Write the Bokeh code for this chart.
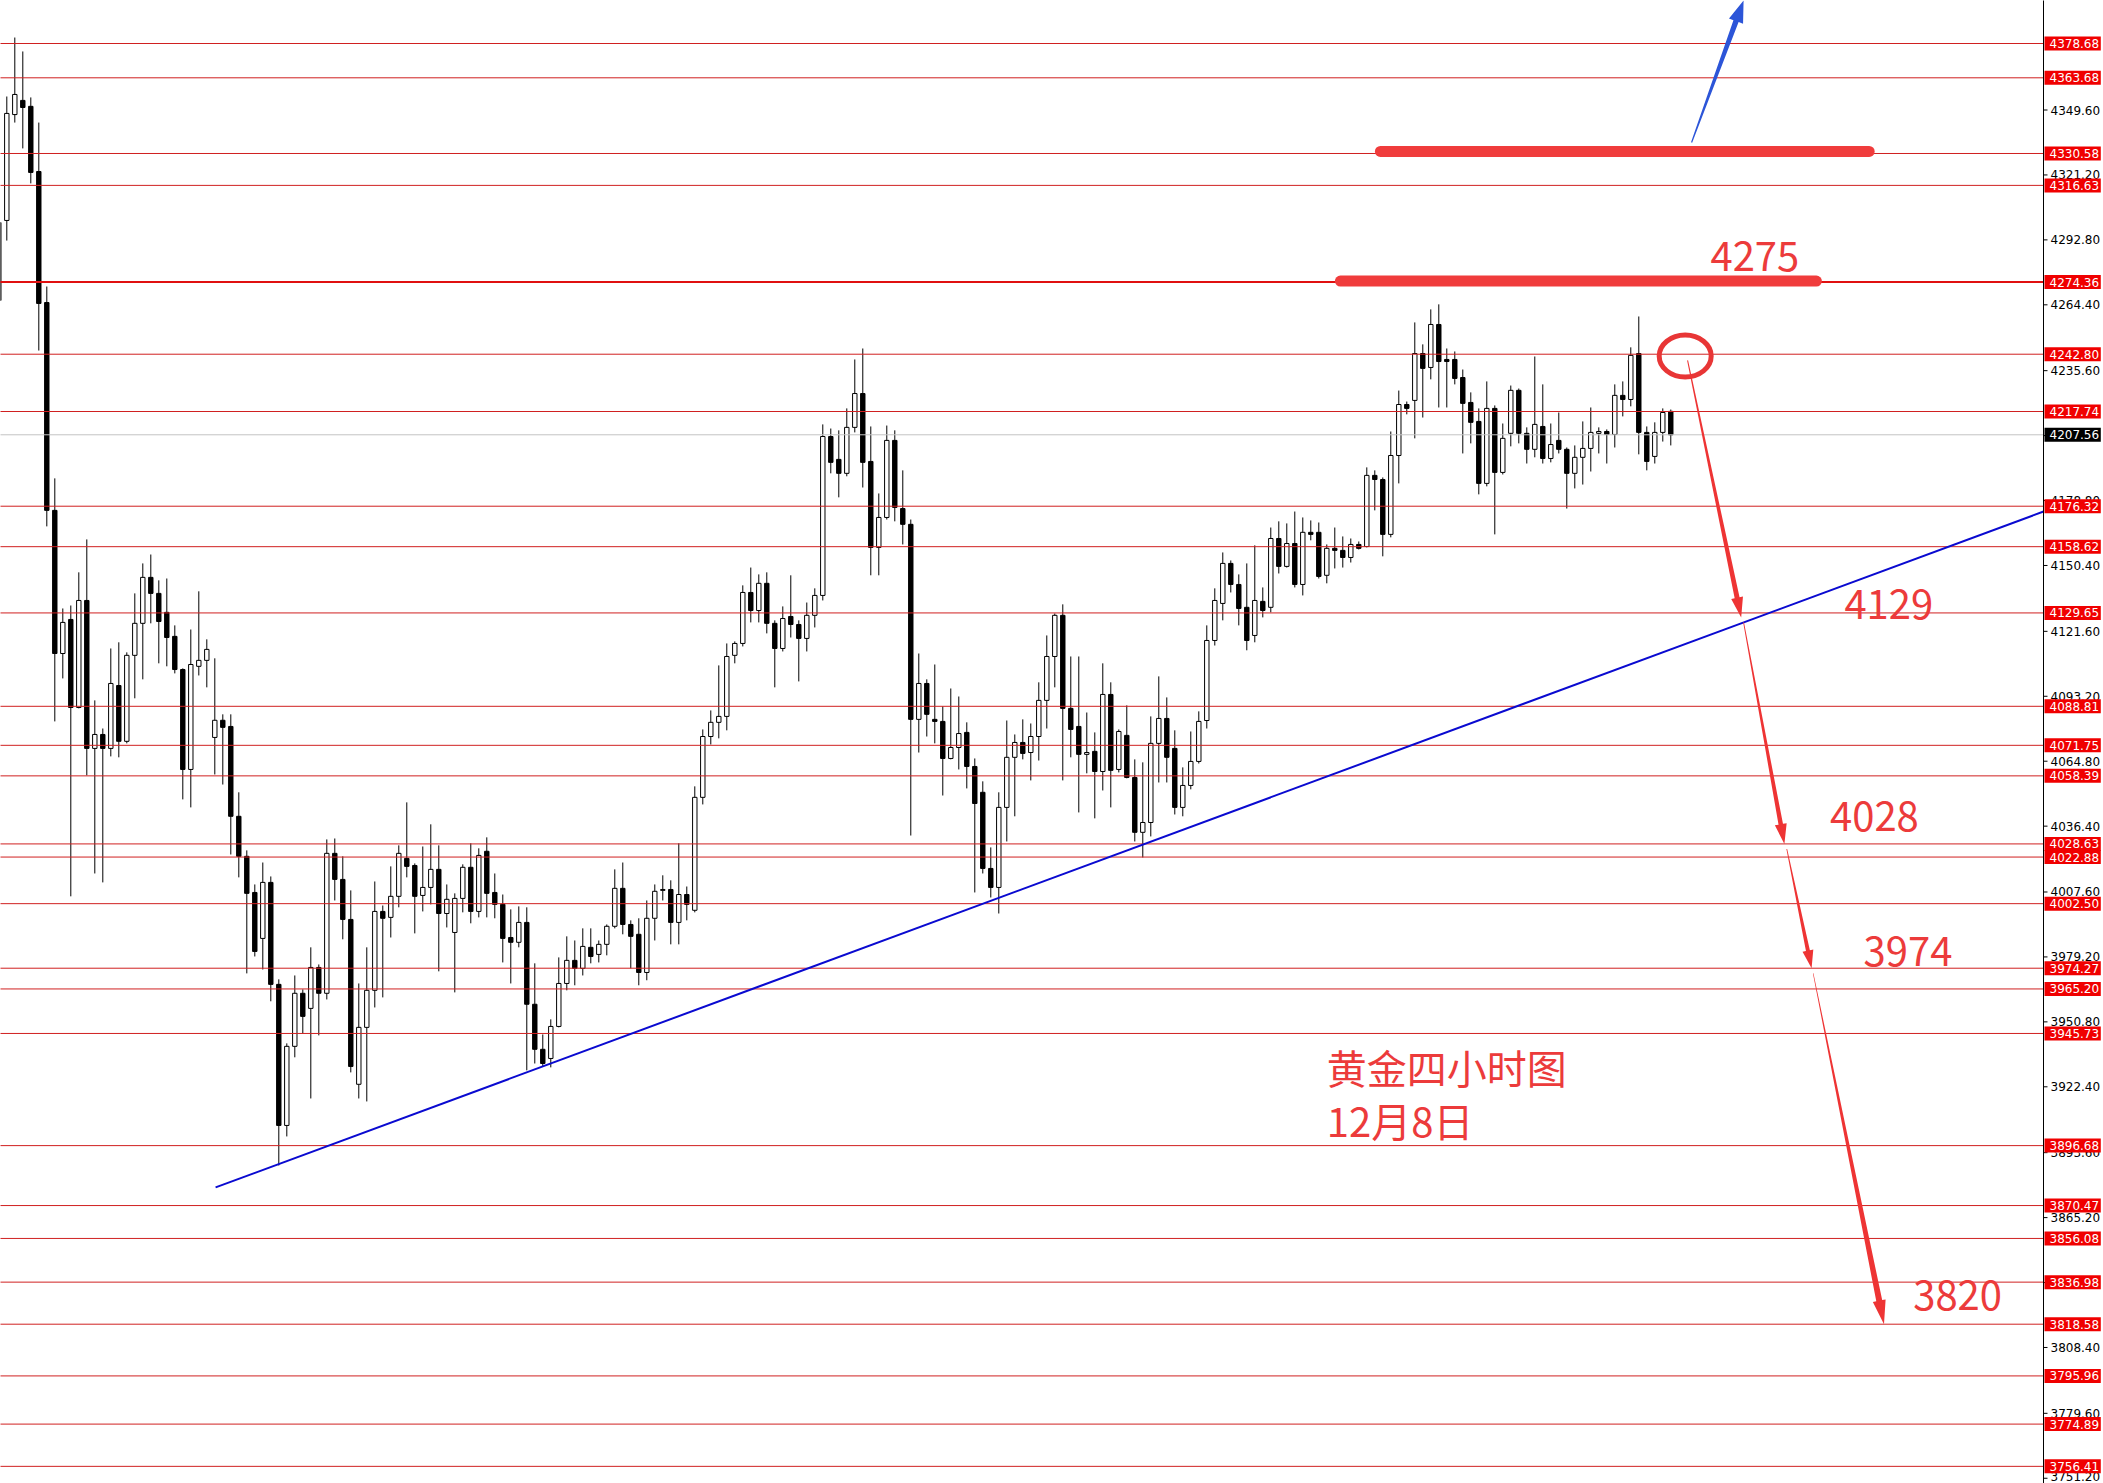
import math
import numpy as np
from bokeh.plotting import figure
from bokeh.models import Range1d
from bokeh.embed import file_html
from bokeh.resources import INLINE
from bokeh.core.properties import value

# ---------------- data (gold, 4-hour candles) ----------------
open_ = [4266.3, 4301.3, 4347.6, 4353.8, 4351.2, 4322.7, 4265.4, 4174.5, 4111.9, 4126.8,
         4088.3, 4135.1, 4070.4, 4076.5, 4070.4, 4097.9, 4073.5, 4111.1, 4125.1, 4145.2,
         4138.2, 4129.9, 4119.4, 4104.9, 4061.2, 4106.3, 4108.9, 4075.2, 4082.7, 4080.0,
         4040.7, 4023.2, 4007.4, 3987.3, 4011.8, 3967.2, 3905.5, 3940.1, 3963.3, 3956.7,
         3974.6, 3963.3, 4024.5, 4013.1, 3995.6, 3923.5, 3948.4, 3964.6, 3999.1, 3996.5,
         4005.7, 4022.3, 4019.2, 4006.1, 4009.6, 4017.5, 3998.2, 3989.9, 4004.8, 4018.4,
         3999.1, 4025.4, 4007.4, 4002.2, 3987.7, 3985.6, 3994.3, 3958.5, 3938.8, 3934.8,
         3948.8, 3967.6, 3977.7, 3974.2, 3983.4, 3980.3, 3984.7, 3992.6, 4009.2, 3993.4,
         3989.1, 3972.4, 3996.1, 4008.3, 4008.7, 3994.3, 4006.5, 3999.6, 4049.0, 4075.6,
         4081.8, 4084.4, 4111.1, 4116.3, 4138.6, 4130.7, 4142.6, 4125.1, 4114.1, 4128.1,
         4124.6, 4118.5, 4128.6, 4137.3, 4206.8, 4196.8, 4190.7, 4210.8, 4225.6, 4195.9,
         4158.3, 4171.4, 4205.1, 4175.3, 4168.4, 4083.1, 4098.8, 4083.1, 4082.2, 4066.0,
         4070.8, 4077.4, 4062.5, 4051.2, 4017.9, 4009.6, 4044.6, 4066.5, 4073.0, 4068.6,
         4075.6, 4091.4, 4110.6, 4128.6, 4087.9, 4080.0, 4067.8, 4069.1, 4060.3, 4094.0,
         4061.2, 4076.1, 4057.7, 4033.7, 4038.0, 4072.6, 4083.5, 4070.4, 4044.6, 4054.2,
         4064.7, 4082.6, 4117.6, 4133.8, 4151.3, 4142.1, 4132.1, 4119.8, 4134.7, 4132.1,
         4162.2, 4150.0, 4160.0, 4142.1, 4164.9, 4164.9, 4146.1, 4157.9, 4157.0, 4153.9,
         4159.6, 4158.7, 4189.8, 4188.0, 4164.0, 4198.5, 4220.8, 4222.6, 4243.1, 4237.0,
         4255.8, 4240.5, 4240.5, 4232.6, 4221.7, 4213.4, 4186.3, 4219.1, 4191.1, 4208.2,
         4227.0, 4208.2, 4201.2, 4211.2, 4197.2, 4205.1, 4201.2, 4190.7, 4197.7, 4201.6,
         4208.2, 4209.0, 4207.7, 4224.8, 4223.0, 4243.1, 4208.6, 4198.1, 4208.6, 4217.8]

high = [4301.3, 4355.5, 4381.3, 4375.2, 4355.1, 4344.1, 4272.4, 4188.5, 4131.6, 4132.9,
        4147.4, 4161.8, 4091.4, 4079.1, 4114.1, 4116.8, 4112.4, 4138.2, 4151.3, 4155.2,
        4143.9, 4144.7, 4124.2, 4105.4, 4122.4, 4139.1, 4118.1, 4109.8, 4085.3, 4085.3,
        4051.2, 4025.8, 4010.9, 4020.5, 4014.4, 3969.4, 3941.4, 3971.1, 3965.0, 3983.4,
        3975.9, 4030.6, 4031.0, 4023.2, 4008.3, 3967.6, 3983.4, 4012.2, 4001.7, 4018.8,
        4028.0, 4046.8, 4020.1, 4027.5, 4037.2, 4028.0, 4010.9, 4007.0, 4019.7, 4028.9,
        4026.7, 4031.5, 4015.7, 4006.5, 4000.0, 4001.3, 4000.9, 3976.4, 3945.3, 3951.9,
        3979.0, 3988.2, 3986.4, 3991.7, 3991.7, 3986.4, 3993.4, 4017.5, 4020.5, 3995.2,
        3996.1, 4003.9, 4010.9, 4014.9, 4012.7, 4028.9, 4010.0, 4053.8, 4078.7, 4087.0,
        4106.7, 4116.3, 4117.2, 4141.7, 4149.5, 4146.5, 4147.4, 4126.4, 4132.5, 4146.1,
        4126.4, 4134.2, 4140.4, 4212.1, 4210.3, 4209.5, 4219.1, 4240.5, 4245.3, 4211.2,
        4181.9, 4211.6, 4209.5, 4192.0, 4170.5, 4111.9, 4100.6, 4107.1, 4088.8, 4096.6,
        4093.1, 4081.8, 4066.0, 4056.0, 4027.1, 4051.2, 4082.6, 4076.5, 4083.1, 4081.3,
        4099.3, 4119.8, 4129.4, 4133.4, 4110.6, 4110.6, 4086.1, 4077.4, 4107.6, 4099.3,
        4078.7, 4089.2, 4065.6, 4064.3, 4084.4, 4101.9, 4092.7, 4078.3, 4062.1, 4077.8,
        4086.6, 4124.2, 4140.4, 4156.1, 4152.6, 4146.5, 4151.3, 4159.2, 4140.8, 4167.0,
        4169.7, 4168.8, 4174.0, 4171.4, 4170.1, 4169.2, 4159.6, 4167.0, 4163.1, 4162.2,
        4160.9, 4193.3, 4192.0, 4188.9, 4209.0, 4226.9, 4222.1, 4256.7, 4247.1, 4262.4,
        4264.6, 4245.3, 4244.0, 4236.1, 4226.1, 4219.1, 4230.9, 4220.4, 4212.5, 4229.1,
        4227.8, 4210.8, 4241.8, 4229.6, 4212.5, 4217.3, 4202.0, 4202.9, 4213.4, 4219.5,
        4210.8, 4209.9, 4229.6, 4230.9, 4245.8, 4259.3, 4211.2, 4213.0, 4219.1, 4218.6]

low = [4260.6, 4292.5, 4344.1, 4332.8, 4317.5, 4244.4, 4167.5, 4082.2, 4101.0, 4005.7,
       4087.9, 4058.6, 4015.7, 4011.8, 4066.9, 4066.5, 4072.6, 4092.3, 4100.6, 4125.1,
       4107.6, 4106.3, 4103.2, 4048.1, 4044.6, 4102.3, 4097.1, 4059.0, 4054.6, 4024.0,
       4014.0, 3972.0, 3979.4, 3973.7, 3959.8, 3888.0, 3900.7, 3935.3, 3945.8, 3917.3,
       3944.9, 3960.6, 4003.9, 3986.9, 3928.7, 3917.3, 3916.0, 3957.1, 3961.5, 3987.7,
       4000.9, 4014.0, 3989.5, 3999.1, 4002.2, 3972.9, 3992.1, 3963.7, 3998.7, 3993.9,
       3996.5, 3996.5, 3996.1, 3976.8, 3967.6, 3983.4, 3929.6, 3932.6, 3931.3, 3930.9,
       3948.4, 3964.6, 3966.8, 3971.1, 3976.4, 3976.8, 3979.9, 3991.7, 3989.1, 3974.2,
       3966.8, 3969.0, 3986.4, 4003.9, 3984.7, 3984.7, 3995.2, 3998.7, 4045.9, 4072.1,
       4074.8, 4078.3, 4107.6, 4115.0, 4125.5, 4125.5, 4120.7, 4097.1, 4112.8, 4118.9,
       4099.7, 4112.8, 4123.3, 4135.1, 4190.7, 4180.2, 4189.4, 4208.6, 4184.5, 4146.1,
       4146.1, 4170.5, 4169.7, 4159.6, 4032.3, 4068.6, 4075.6, 4072.6, 4049.8, 4065.6,
       4061.2, 4052.9, 4007.4, 4015.7, 4005.2, 3998.2, 4029.7, 4040.7, 4065.6, 4056.4,
       4065.1, 4079.1, 4097.1, 4056.4, 4066.5, 4042.4, 4059.5, 4039.8, 4052.0, 4044.6,
       4059.9, 4057.3, 4029.7, 4022.7, 4031.9, 4055.5, 4055.5, 4041.5, 4040.7, 4052.5,
       4063.8, 4079.1, 4115.4, 4126.4, 4138.6, 4124.2, 4113.3, 4116.8, 4127.7, 4129.9,
       4146.9, 4149.5, 4140.8, 4137.3, 4161.4, 4144.7, 4142.6, 4149.1, 4149.5, 4151.7,
       4157.4, 4158.3, 4174.5, 4154.4, 4162.7, 4186.3, 4216.5, 4206.0, 4215.1, 4231.8,
       4219.5, 4219.5, 4229.6, 4199.4, 4203.8, 4181.5, 4185.0, 4164.0, 4190.2, 4202.5,
       4203.8, 4195.0, 4197.7, 4195.0, 4195.5, 4199.4, 4175.3, 4184.1, 4185.8, 4191.5,
       4199.4, 4195.0, 4202.0, 4215.6, 4220.0, 4199.0, 4192.0, 4195.0, 4204.6, 4202.9]

close = [4300.4, 4348.1, 4356.4, 4350.7, 4322.3, 4265.0, 4174.5, 4111.9, 4125.5, 4088.3,
         4135.1, 4070.4, 4076.5, 4070.4, 4098.8, 4073.5, 4111.1, 4125.1, 4145.2, 4138.2,
         4125.9, 4118.9, 4104.9, 4061.2, 4107.1, 4108.9, 4113.7, 4082.7, 4079.6, 4040.7,
         4023.2, 4007.0, 3981.6, 4011.8, 3967.2, 3905.5, 3940.1, 3963.3, 3953.2, 3974.6,
         3963.3, 4024.5, 4013.1, 3995.6, 3931.3, 3948.4, 3964.6, 3999.1, 3996.1, 4005.7,
         4024.5, 4018.8, 4005.7, 4009.6, 4017.5, 3998.2, 4004.4, 4004.8, 4018.4, 3999.1,
         4023.6, 4007.0, 4002.2, 3987.3, 3985.6, 3994.3, 3958.5, 3938.8, 3932.6, 3948.8,
         3967.6, 3977.7, 3974.2, 3983.8, 3979.4, 3984.7, 3992.6, 4009.2, 3993.4, 3988.2,
         3972.4, 3996.1, 4007.9, 4008.7, 3994.3, 4006.5, 4002.2, 4049.0, 4075.6, 4081.8,
         4084.4, 4110.6, 4116.3, 4138.6, 4130.7, 4142.6, 4125.1, 4114.1, 4127.2, 4124.6,
         4118.5, 4128.6, 4137.3, 4206.8, 4195.5, 4190.7, 4210.8, 4225.6, 4195.5, 4158.3,
         4171.4, 4205.1, 4175.8, 4168.4, 4083.1, 4098.8, 4085.3, 4082.2, 4066.0, 4070.8,
         4076.9, 4062.5, 4046.3, 4017.9, 4009.6, 4044.6, 4066.5, 4073.0, 4068.2, 4075.6,
         4091.4, 4110.6, 4128.6, 4087.9, 4078.7, 4067.8, 4068.6, 4060.3, 4094.0, 4060.8,
         4077.8, 4057.7, 4033.7, 4038.0, 4072.6, 4083.5, 4066.5, 4044.6, 4054.2, 4064.7,
         4082.2, 4117.6, 4135.1, 4151.3, 4142.1, 4131.6, 4117.6, 4135.1, 4130.7, 4162.2,
         4150.0, 4160.0, 4142.1, 4164.9, 4164.0, 4145.6, 4157.9, 4157.0, 4153.9, 4159.6,
         4157.9, 4189.8, 4188.0, 4164.0, 4198.5, 4220.8, 4219.1, 4243.1, 4236.6, 4255.8,
         4239.6, 4239.6, 4232.2, 4221.3, 4213.0, 4186.3, 4219.1, 4191.1, 4206.0, 4227.0,
         4208.2, 4201.2, 4212.1, 4197.2, 4203.3, 4201.2, 4190.7, 4197.7, 4201.6, 4208.6,
         4209.0, 4207.7, 4224.8, 4223.0, 4242.3, 4208.6, 4195.9, 4208.6, 4217.3, 4207.56]

levels = [4378.68, 4363.68, 4330.58, 4316.63, 4274.36, 4242.80, 4217.74, 4176.32, 4158.62,
          4129.65, 4088.81, 4071.75, 4058.39, 4028.63, 4022.88, 4002.50, 3974.27, 3965.20,
          3945.73, 3896.68, 3870.47, 3856.08, 3836.98, 3818.58, 3795.96, 3774.89, 3756.41]
key_level = 4274.36
current_price = 4207.56
axis_ticks = [4349.60, 4321.20, 4292.80, 4264.40, 4235.60, 4207.20, 4178.80, 4150.40,
              4121.60, 4093.20, 4064.80, 4036.40, 4007.60, 3979.20, 3950.80, 3922.40,
              3893.60, 3865.20, 3836.80, 3808.40, 3779.60, 3751.20]

# support trend line (bar index, price)
trend_x = [27.1, 255.6]
trend_y = [3878.4, 4174.0]

# target annotations
target_text = ["4275", "4129", "4028", "3974", "3820"]
target_x = [213.96, 230.7, 228.9, 233.1, 239.3]
target_y = [4285.5, 4133.3, 4040.5, 3981.7, 3831.1]
title_lines = ["黄金四小时图", "12月8日"]
title_x = [166.0, 166.0]
title_y = [3930.9, 3907.7]

# down-path arrows: (x0, y0, x1, y1)
down_path = [(211.1, 4240.1, 217.8, 4127.7),
             (218.1, 4125.5, 223.2, 4028.63),
             (223.5, 4026.4, 226.6, 3974.27),
             (226.8, 3972.0, 235.65, 3818.58)]
up_arrow = (211.6, 4335.4, 218.1, 4397.5)
brush_x = [(172.7, 233.8), (167.7, 227.2)]
brush_y = [4331.5, 4274.8]
ring = (210.8, 4242.0)

# ---------------- figure (price scale drawn inside the canvas) ----------------
X0, X1 = 0.2125, 263.09          # bar-index range over the full canvas width
Y0, Y1 = 3748.91, 4397.49        # price range over the full canvas height
AXIS_X = 255.59                  # bar-index position of the price-scale line
FW, FH = 2103, 1483

p = figure(frame_width=FW, frame_height=FH, x_range=Range1d(X0, X1), y_range=Range1d(Y0, Y1),
           output_backend="svg", toolbar_location=None, x_axis_location=None,
           y_axis_location=None, min_border_left=0, min_border_top=0,
           min_border_bottom=0, min_border_right=0)
p.grid.visible = False
p.outline_line_color = None
p.background_fill_color = "white"
p.border_fill_color = "white"

sx = FW / (X1 - X0)
sy = FH / (Y1 - Y0)

o = np.array(open_); h = np.array(high); l = np.array(low); c = np.array(close)
idx = np.arange(len(o))
inc = c >= o
dec = ~inc

# candles
p.segment(idx, h, idx, l, line_color="black", line_width=1)
p.vbar(idx[inc], 0.55, c[inc], o[inc], fill_color="white", line_color="black", line_width=1)
p.vbar(idx[dec], 0.55, o[dec], c[dec], fill_color="black", line_color="black", line_width=1)

# horizontal levels
n = len(levels)
p.segment([X0 - 1] * n, levels, [AXIS_X] * n, levels, line_color="#d02020", line_width=1)
p.segment([X0 - 1], [key_level], [AXIS_X], [key_level], line_color="#e01010", line_width=2)
p.segment([X0 - 1], [current_price], [AXIS_X], [current_price], line_color="#c4c4c4", line_width=1)

# trend line
p.line(trend_x, trend_y, line_color="#0a0ad0", line_width=2)

# red brush strokes
for (xa, xb), yy in zip(brush_x, brush_y):
    p.line([xa, xb], [yy, yy], line_color="#f03c3c", line_width=11, line_cap="round")

# ring
p.ellipse(x=[ring[0]], y=[ring[1]], width=52 / sx, height=42 / sy,
          fill_color=None, line_color="#e83636", line_width=5)


def arrow_poly(x0, y0, x1, y1, w0, w1, hl, hw):
    ax_, ay_ = x0 * sx, y0 * sy
    bx, by = x1 * sx, y1 * sy
    dx, dy = bx - ax_, by - ay_
    L = math.hypot(dx, dy)
    ux, uy = dx / L, dy / L
    nx, ny = -uy, ux
    cx, cy = bx - ux * hl, by - uy * hl
    pts = [(ax_ + nx * w0 / 2, ay_ + ny * w0 / 2),
           (cx + nx * w1 / 2, cy + ny * w1 / 2),
           (cx + nx * hw / 2, cy + ny * hw / 2),
           (bx, by),
           (cx - nx * hw / 2, cy - ny * hw / 2),
           (cx - nx * w1 / 2, cy - ny * w1 / 2),
           (ax_ - nx * w0 / 2, ay_ - ny * w0 / 2)]
    return [q[0] / sx for q in pts], [q[1] / sy for q in pts]


axs, ays = [], []
specs = [(1.0, 5.0, 20, 12), (0.8, 4.5, 20, 12), (0.8, 4.0, 18, 11), (0.5, 6.0, 24, 13)]
for (x0, y0, x1, y1), (w0, w1, hl, hw) in zip(down_path, specs):
    xs_, ys_ = arrow_poly(x0, y0, x1, y1, w0, w1, hl, hw)
    axs.append(xs_); ays.append(ys_)
p.patches(axs, ays, fill_color="#ee3434", line_color=None)

bxs, bys = arrow_poly(*up_arrow, 1.2, 5.5, 22, 15)
p.patch(bxs, bys, fill_color="#2c55d8", line_color=None)

# texts
p.text(target_x, target_y, text=target_text, text_font=value("Noto Sans CJK SC"),
       text_font_size="40px", text_color="#ec3b3b", text_align="left",
       text_baseline="alphabetic")
p.text(title_x, title_y, text=title_lines, text_font=value("Noto Sans CJK SC"),
       text_font_size="40px", text_color="#ec3b3b", text_align="left",
       text_baseline="alphabetic")

# ---------------- price scale ----------------
p.segment([AXIS_X], [Y0 - 5], [AXIS_X], [Y1 + 5], line_color="black", line_width=1)
nt = len(axis_ticks)
p.segment([AXIS_X] * nt, axis_ticks, [AXIS_X + 4 / sx] * nt, axis_ticks,
          line_color="black", line_width=1)
# keep the lowest label fully inside the canvas
label_y = [max(t, Y0 + 7.5 / sy) for t in axis_ticks]
p.text([AXIS_X + 7 / sx] * nt, label_y, text=[f"{t:.2f}" for t in axis_ticks],
       text_font=value("DejaVu Sans"), text_font_size="12px", text_color="black",
       text_align="left", text_baseline="middle")

# price tags
tag_w = (FW - 1) / sx - AXIS_X - 1 / sx
tag_cx = AXIS_X + 1 / sx + tag_w / 2
p.rect([tag_cx] * n, levels, width=tag_w, height=14 / sy,
       fill_color="#f00000", line_color=None)
p.text([AXIS_X + 6 / sx] * n, levels, text=[f"{v:.2f}" for v in levels],
       text_font=value("DejaVu Sans"), text_font_size="12px", text_color="white",
       text_align="left", text_baseline="middle")
p.rect([tag_cx], [current_price], width=tag_w, height=14 / sy,
       fill_color="black", line_color=None)
p.text([AXIS_X + 6 / sx], [current_price], text=[f"{current_price:.2f}"],
       text_font=value("DejaVu Sans"), text_font_size="12px", text_color="white",
       text_align="left", text_baseline="middle")

open("out.html", "w").write(file_html(p, INLINE))
